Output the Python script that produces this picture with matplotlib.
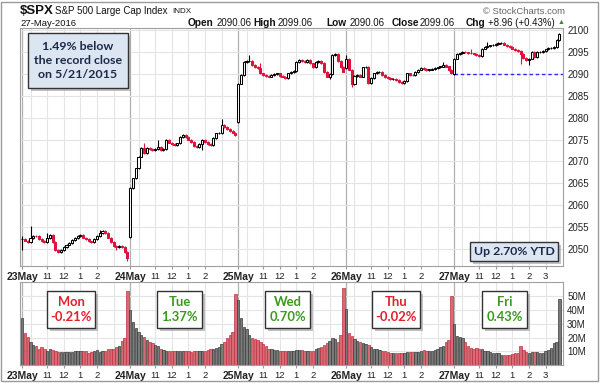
import matplotlib
matplotlib.use("Agg")
import matplotlib.pyplot as plt
from matplotlib.patches import Rectangle

plt.rcParams['font.family'] = ['Liberation Sans', 'DejaVu Sans']

# --- data: 10-minute bars, 39 per session ---
days = ["23May", "24May", "25May", "26May", "27May"]
day_names = ["Mon", "Tue", "Wed", "Thu", "Fri"]
day_changes = ["-0.21%", "1.37%", "0.70%", "-0.02%", "0.43%"]
day_opens = [2052.23, 2052.65, 2078.93, 2091.44, 2090.06]
hour_labels = ["11", "12", "1", "2", "3"]
hour_bars = [9, 15, 21, 27, 33]

mon_close = [2052.3, 2051.9, 2051.6, 2052.4, 2053.0, 2052.9, 2052.3, 2051.8, 2051.5, 2052.4,
             2053.2, 2051.5, 2049.8, 2049.2, 2049.7, 2050.5, 2051.0, 2051.4, 2052.0, 2052.5,
             2053.0, 2053.2, 2052.6, 2052.2, 2051.7, 2051.6, 2052.3, 2052.9, 2053.6, 2054.1,
             2053.7, 2052.6, 2051.5, 2050.6, 2050.4, 2050.6, 2050.5, 2049.3, 2048.04]
tue_close = [2063.9, 2066.1, 2068.4, 2071.1, 2073.0, 2072.0, 2073.0, 2072.8, 2072.5, 2072.9,
             2073.4, 2072.6, 2072.8, 2074.9, 2074.3, 2074.0, 2073.8, 2074.1, 2075.6, 2076.0,
             2075.6, 2075.0, 2074.5, 2073.5, 2073.3, 2073.9, 2074.9, 2074.5, 2074.0, 2073.8,
             2075.3, 2076.4, 2076.5, 2078.3, 2077.8, 2077.4, 2077.0, 2076.6, 2076.06]
wed_close = [2087.8, 2089.7, 2092.8, 2092.9, 2093.0, 2092.0, 2091.6, 2091.3, 2090.1, 2089.7,
             2089.6, 2089.4, 2089.7, 2089.9, 2090.1, 2089.6, 2089.4, 2089.0, 2090.1, 2090.5,
             2090.6, 2092.8, 2093.2, 2093.0, 2092.8, 2093.2, 2092.4, 2091.6, 2092.8, 2093.0,
             2092.5, 2090.5, 2089.4, 2090.0, 2094.3, 2094.6, 2093.0, 2091.6, 2090.54]
thu_close = [2093.5, 2091.0, 2087.6, 2089.5, 2089.8, 2089.4, 2091.5, 2091.6, 2088.0, 2089.0,
             2090.1, 2090.4, 2090.5, 2089.8, 2089.3, 2089.0, 2088.8, 2088.9, 2088.6, 2088.2,
             2088.0, 2088.3, 2090.1, 2089.8, 2089.7, 2090.5, 2091.0, 2091.4, 2091.2, 2090.9,
             2091.0, 2091.1, 2091.3, 2091.5, 2091.7, 2092.0, 2091.7, 2090.9, 2090.1]
fri_close = [2093.5, 2094.6, 2094.7, 2095.1, 2094.9, 2094.8, 2094.7, 2094.6, 2094.3, 2094.0,
             2095.8, 2096.2, 2096.3, 2096.5, 2096.6, 2096.8, 2097.0, 2097.1, 2096.7, 2096.3,
             2096.1, 2095.8, 2095.5, 2095.2, 2094.6, 2093.7, 2093.2, 2093.5, 2095.0, 2093.9,
             2095.0, 2095.0, 2095.3, 2095.6, 2095.9, 2096.0, 2096.1, 2097.7, 2099.06]

mon_vol = [34, 23, 20.5, 17, 14.5, 13.5, 12, 13, 12, 10.5, 11.5, 11, 10, 9.5, 9.5, 9.5, 9.5, 9.5, 9.5, 10,
           10, 10, 10, 10, 9, 9.5, 10, 11, 9.5, 10.5, 10.5, 11.5, 12, 11.5, 13, 13.5, 17.5, 20, 54]
tue_vol = [40, 31.5, 27, 24, 22, 20.5, 18, 17, 16, 14.5, 13.5, 12, 11, 10, 10, 10.5, 10.5, 10, 10, 10,
           10.5, 10.5, 9.5, 10, 10, 10, 10, 10, 11, 12, 12, 12.5, 13, 15, 17, 19.5, 22, 24, 52]
wed_vol = [47, 34, 28, 26, 22, 20, 19, 18, 16.5, 15, 13.5, 12, 11.5, 11, 11, 10.5, 10.5, 10, 10, 10,
           10.5, 11, 11, 11, 10.5, 10.5, 10, 10, 12, 12.5, 13, 14.5, 16, 17.5, 19.5, 19, 17, 22, 56]
thu_vol = [41, 23, 21, 19, 17.5, 17, 16, 15, 14.5, 13, 12, 11.5, 11, 10.5, 10.5, 9.5, 9, 9, 8.5, 9,
           9, 9, 9.5, 9.5, 9.5, 9.5, 9.5, 10, 11, 10.5, 10, 10.5, 11, 12, 13, 14, 16.5, 18, 50]
fri_vol = [30, 21, 20.5, 20, 16.5, 14, 12.5, 12, 12.5, 11.5, 11.5, 10.5, 10, 9.5, 9, 9, 8.5, 7.5, 7.5, 7.5,
           7.5, 8, 8.5, 9, 13.5, 11, 9.5, 9, 9.5, 9.5, 9.5, 9, 9, 10, 11, 12.5, 16, 16.5, 48]

# notable wicks (day, bar) -> price
wick_high = {(0, 0): 2053.0, (0, 3): 2055.2, (0, 9): 2053.6, (0, 28): 2054.4,
             (1, 5): 2074.1, (1, 10): 2074.9, (1, 33): 2079.7,
             (2, 4): 2094.3, (2, 8): 2092.6, (2, 35): 2094.7,
             (3, 0): 2094.3, (3, 35): 2092.8, (4, 6): 2095.8, (4, 12): 2097.3}
wick_low = {(0, 0): 2049.8, (0, 34): 2049.8, (0, 38): 2047.3, (1, 26): 2072.5,
            (2, 33): 2088.9, (3, 2): 2087.1, (4, 24): 2092.3, (4, 27): 2092.0}

closes_by_day = [mon_close, tue_close, wed_close, thu_close, fri_close]
vols_by_day = [mon_vol, tue_vol, wed_vol, thu_vol, fri_vol]
n_per_day = len(mon_close)

RED = '#dc143c'
W, H = 600, 383

fig = plt.figure(figsize=(6, 3.83), dpi=100)
ax = fig.add_axes([20 / W, 1 - 266 / H, 543 / W, 238 / H])
axv = fig.add_axes([20 / W, 1 - 365 / H, 543 / W, 83 / H])

xs, o_list, c_list, hi_list, lo_list, up_list, vol_list = [], [], [], [], [], [], []
prev = None
for d, (cl, vl) in enumerate(zip(closes_by_day, vols_by_day)):
    o = day_opens[d]
    ref = o if prev is None else prev
    for b, c in enumerate(cl):
        k = d * n_per_day + b
        xs.append(k)
        o_list.append(o)
        c_list.append(c)
        hi_list.append(wick_high.get((d, b), max(o, c) + 0.2))
        lo_list.append(wick_low.get((d, b), min(o, c) - 0.2))
        up_list.append(c >= ref)
        vol_list.append(vl[b])
        ref = c
        o = c
    prev = cl[-1]

# grid
for d in range(len(days)):
    for a in (ax, axv):
        a.axvline(d * n_per_day, color='#b0b0b0', lw=0.9, zorder=0)
        for h in [3] + hour_bars:
            a.axvline(d * n_per_day + h, color='#e4e4e4', lw=0.8, zorder=0)

# candles
for x, o, c, hi, lo, up in zip(xs, o_list, c_list, hi_list, lo_list, up_list):
    col = 'black' if up else RED
    ax.vlines(x, lo, hi, color=col, lw=0.8, zorder=2)
    face = col if c < o else 'white'
    ax.bar(x, max(abs(c - o), 0.12), bottom=min(o, c), width=0.75,
           color=face, edgecolor=col, linewidth=0.75, zorder=3)

ax.hlines(day_opens[-1], (len(days) - 1) * n_per_day, 195.3, colors='#2a2aff',
          linestyles=(0, (2.5, 2)), lw=1, zorder=1)

# volume
vcols = ['#7a7a7a' if u else '#d66a75' for u in up_list]
ecols = ['#3a3a3a' if u else '#c0303f' for u in up_list]
axv.bar(xs, vol_list, width=0.85, color=vcols, edgecolor=ecols, linewidth=0.5, zorder=2)

ticks, labels = [], []
for d, lab in enumerate(days):
    ticks.append(d * n_per_day)
    labels.append(lab)
    for hb, hl in zip(hour_bars, hour_labels):
        if hl == "3" and d < len(days) - 1:
            continue
        ticks.append(d * n_per_day + hb)
        labels.append(hl)

for a in (ax, axv):
    a.set_xlim(-0.8, 195.3)
    a.set_xticks(ticks)
    a.set_xticklabels(labels, fontsize=6.8, color='#222222')
    for t in a.get_xticklabels():
        if t.get_text() in days:
            t.set_fontweight('bold')
            t.set_fontsize(7.5)
    a.tick_params(axis='x', length=2, pad=2, color='#999999')
    a.yaxis.tick_right()
    a.tick_params(axis='y', length=0, pad=3, labelsize=7, labelcolor='#222222')
    a.grid(axis='y', color='#e4e4e4', lw=0.8, zorder=0)
    a.set_axisbelow(True)
    for s in a.spines.values():
        s.set_color('#a0a0a0')
        s.set_linewidth(0.8)

ax.set_ylim(2046.1, 2100.5)
ax.set_yticks(range(2050, 2101, 5))
axv.set_ylim(0, 60.4)
axv.set_yticks([10, 20, 30, 40, 50])
axv.set_yticklabels([f"{v}M" for v in [10, 20, 30, 40, 50]])


def fx(x):
    return x / W


def fy(y):
    return 1 - y / H


# header
fig.text(fx(20), fy(11), "$SPX", fontsize=9.5, fontweight='bold', va='center', color='#111111')
fig.text(fx(55), fy(11), "S&P 500 Large Cap Index", fontsize=7, va='center', color='#111111')
fig.text(fx(172), fy(11.5), "INDX", fontsize=5.8, va='center', color='#111111')
fig.text(fx(20), fy(23), "27-May-2016", fontsize=6.8, va='center', color='#111111')
fig.text(fx(565), fy(11), "\u00a9 StockCharts.com", fontsize=6.8, va='center', ha='right', color='#666666')
header = [("Open", 188, True), ("2090.06", 217, False), ("High", 253, True), ("2099.06", 278, False),
          ("Low", 326, True), ("2090.06", 350, False), ("Close", 392, True), ("2099.06", 420, False),
          ("Chg", 466, True), ("+8.96 (+0.43%)", 488, False)]
for txt, x, bold in header:
    fig.text(fx(x), fy(23), txt, fontsize=7.3 if bold else 6.9, va='center',
             fontweight='bold' if bold else 'normal', color='#111111')
fig.text(fx(561), fy(23), "\u25b2", fontsize=5, va='center', ha='center', color='#2e8b2e')


def note_box(x0, y0, x1, y1, text, color, face, size, spacing=1.3):
    w, h = x1 - x0, y1 - y0
    fig.add_artist(Rectangle((fx(x0 + 3), fy(y1 + 3)), w / W, h / H, transform=fig.transFigure,
                             facecolor='#a8a8a8', edgecolor='none', alpha=0.7, zorder=5))
    fig.add_artist(Rectangle((fx(x0), fy(y1)), w / W, h / H, transform=fig.transFigure,
                             facecolor=face, edgecolor='#333333', lw=1, zorder=6))
    fig.text(fx((x0 + x1) / 2), fy((y0 + y1) / 2), text, ha='center', va='center', color=color,
             fontsize=size, fontweight='bold', family=['Lato', 'DejaVu Sans'],
             linespacing=spacing, zorder=7)


note_box(28, 33, 128, 88, "1.49% below\nthe record close\non 5/21/2015", '#1c2a48', '#dce6f2', 8.9, 1.3)
note_box(470, 242, 558, 261, "Up 2.70% YTD", '#1c2a48', '#dce6f2', 8.8)

box_x = [(47, 95), (157, 202), (265, 310), (372, 420), (482, 527)]
for (x0, x1), name, chg in zip(box_x, day_names, day_changes):
    col = '#e3202c' if chg.startswith('-') else '#3a9a1c'
    note_box(x0, 291, x1, 328, f"{name}\n{chg}", col, 'white', 9.4, 1.3)

# outer frame
fig.add_artist(Rectangle((fx(1), fy(381)), 597 / W, 379 / H, transform=fig.transFigure,
                         facecolor='none', edgecolor='#9a9a9a', lw=1, zorder=10))

fig.savefig("out.png", dpi=100)
